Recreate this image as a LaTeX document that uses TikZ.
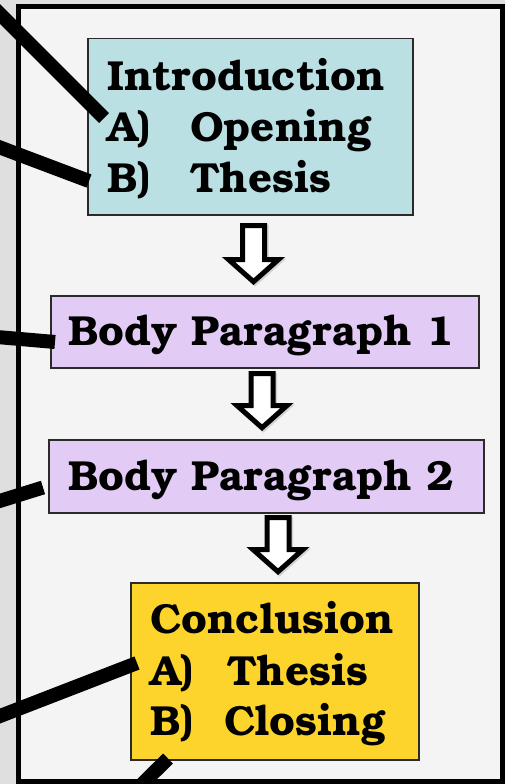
\documentclass[tikz,border=0pt]{standalone}
\usepackage{fontspec}
\setmainfont{TeX Gyre Bonum}
\usetikzlibrary{calc}
\usepackage{xcolor}
\definecolor{outgray}{HTML}{DFDFDF}
\definecolor{panelgray}{HTML}{F4F4F4}
\definecolor{boxline}{HTML}{2A2A2A}
\definecolor{introcol}{HTML}{BAE0E4}
\definecolor{bodycol}{HTML}{E2CCF6}
\definecolor{conclcol}{HTML}{FDD42C}

\begin{document}
\begin{tikzpicture}[x=1pt,y=-1pt]
		\tikzstyle{box}=[draw=boxline, line width=1.5pt, inner sep=0pt, anchor=north west]
		\tikzstyle{txt}=[anchor=base west, inner sep=0pt, font=\bfseries\fontsize{42}{42}\selectfont]
		\tikzstyle{leader}=[line width=14pt]
		\tikzstyle{blockarrow}=[draw, line width=5pt, fill=white, line join=miter]
		\useasboundingbox (0,0) rectangle (505,784);
		\fill[outgray] (0,0) rectangle (505,784);
		\draw[line width=5pt, fill=panelgray] (18.5,6.5) rectangle (502.5,781.5);
		% boxes
		\node[box, fill=introcol, minimum width=325pt, minimum height=176pt] (intro) at (87,38) {};
		\node[box, fill=bodycol, minimum width=428pt, minimum height=72pt] (body1) at (50,295) {};
		\node[box, fill=bodycol, minimum width=435pt, minimum height=73pt] (body2) at (48,439) {};
		\node[box, fill=conclcol, minimum width=288pt, minimum height=177pt] (concl) at (130,582) {};
		% texts
		\node[txt] (introT) at (107,90) {Introduction};
		\node[txt] (introA) at (107,141) {\makebox[83pt][l]{A)}Opening};
		\node[txt] (introB) at (107,192) {\makebox[83pt][l]{B)}Thesis};
		\node[txt] (body1T) at (68,345) {Body Paragraph 1};
		\node[txt] (body2T) at (68,490) {Body Paragraph 2};
		\node[txt] (conclT) at (150,633) {Conclusion};
		\node[txt] (conclA) at (150,685) {\makebox[77pt][l]{A)}Thesis};
		\node[txt] (conclB) at (150,735) {\makebox[74pt][l]{B)}Closing};
		% arrows
		\foreach \cx/\t/\b/\p in {253.5/225.5/259.5/281.7, 262/373.5/405.5/427.7, 278/517.5/549.5/571.7}
		{
			\draw[blockarrow, draw=gray!35, fill=none, shift={(1.5,1.5)}] (\cx-11,\t) -- (\cx+11,\t) -- (\cx+11,\b) -- (\cx+25,\b) -- (\cx,\p) -- (\cx-25,\b) -- (\cx-11,\b) -- cycle;
			\draw[blockarrow] (\cx-11,\t) -- (\cx+11,\t) -- (\cx+11,\b) -- (\cx+25,\b) -- (\cx,\p) -- (\cx-25,\b) -- (\cx-11,\b) -- cycle;
		}
		% leader lines
		\coordinate (inAfree) at (-10,4);
		\coordinate (inAend) at ($(intro.north west)+(17,80)$);
		\coordinate (inBfree) at (-10,143.7);
		\coordinate (inBend) at ($(intro.north west)+(2,143)$);
		\coordinate (b1free) at (-10,336.4);
		\coordinate (b1end) at ($(body1.north west)+(5,47)$);
		\coordinate (b2free) at (-10,504);
		\coordinate (b2end) at ($(body2.north west)+(-5,48.5)$);
		\coordinate (cAfree) at (-10,719.9);
		\coordinate (cAend) at ($(concl.north west)+(7,81)$);
		\coordinate (cBfree) at (130,796);
		\coordinate (cBend) at ($(concl.north west)+(38,176.5)$);
		\draw[leader] (inAfree) -- (inAend);
		\draw[leader] (inBfree) -- (inBend);
		\draw[leader] (b1free) -- (b1end);
		\draw[leader] (b2free) -- (b2end);
		\draw[leader] (cAfree) -- (cAend);
		\draw[leader] (cBfree) -- (cBend);
	\end{tikzpicture}
\end{document}
